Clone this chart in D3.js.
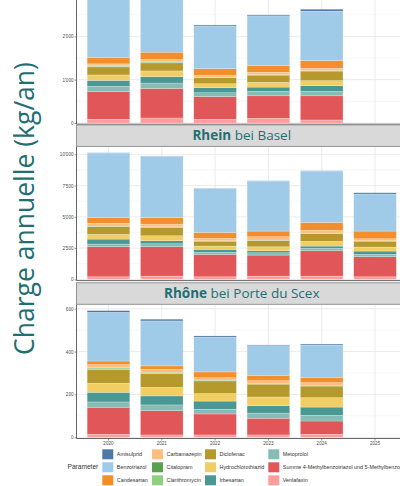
<!DOCTYPE html>
<html>
<head>
<meta charset="utf-8">
<script src="https://cdn.jsdelivr.net/npm/d3@7"></script>
<style>
  html, body { margin: 0; padding: 0; background: #fff; }
  svg { display: block; }
</style>
</head>
<body>
<svg id="chart" width="400" height="486"></svg>
<script>
// ---- data ---------------------------------------------------------------
const years = ["2020", "2021", "2022", "2023", "2024", "2025"];

const parameters = [
  "Amisulprid", "Benzotriazol", "Candesartan", "Carbamazepin",
  "Citalopram", "Clarithromycin", "Diclofenac", "Hydrochlorothiazid",
  "Irbesartan", "Metoprolol",
  "Summe 4-Methylbenzotriazol und 5-Methylbenzotriazol", "Venlafaxin"
];

const parameterColors = [
  "#4e79a7", "#a0cbe8", "#f28e2b", "#ffbe7d",
  "#59a14f", "#8cd17d", "#b6992d", "#f1ce63",
  "#499894", "#86bcb6", "#e15759", "#ff9d9a"
];

// Annual loads in kg/a: one row per parameter (order of `parameters`),
// one column per year (order of `years`); null = no value for that year.
const upperLoads = [
  [20, 20, 23, 23, 46, null],
  [1355, 1269, 984, 1147, 1139, null],
  [140, 170, 156, 156, 179, null],
  [39, 54, 46, 54, 54, null],
  [16, 13, 5, 5, 5, null],
  [15, 10, 5, 5, 5, null],
  [186, 186, 137, 168, 222, null],
  [125, 132, 93, 109, 117, null],
  [139, 148, 116, 100, 132, null],
  [117, 124, 86, 101, 100, null],
  [642, 682, 526, 519, 558, null],
  [86, 116, 86, 109, 70, null]
];

const rheinLoads = [
  [20, 20, 20, 20, 20, 100],
  [5180, 4916, 3500, 4004, 4108, 2964],
  [448, 504, 480, 456, 640, 616],
  [216, 216, 192, 264, 216, 160],
  [20, 20, 15, 15, 15, 15],
  [20, 20, 15, 15, 15, 15],
  [624, 680, 394, 506, 634, 474],
  [376, 400, 264, 320, 376, 320],
  [400, 240, 240, 160, 184, 264],
  [216, 240, 160, 184, 192, 192],
  [2400, 2344, 1792, 1680, 2024, 1600],
  [208, 264, 208, 264, 264, 208]
];

const rhoneLoads = [
  [8, 8, 6, 3, 5, null],
  [227, 210, 162, 139, 150, null],
  [17, 16, 27, 25, 25, null],
  [14, 14, 11, 12, 12, null],
  [4, 3, 2, 2, 2, null],
  [4, 2, 2, 2, 2, null],
  [65, 65, 59, 60, 54, null],
  [42, 40, 35, 41, 44, null],
  [45, 42, 38, 34, 38, null],
  [25, 27, 22, 24, 27, null],
  [126, 113, 98, 78, 62, null],
  [14, 11, 11, 11, 14, null]
];

const upperTicks = [0, 1000, 2000];
const rheinTicks = [0, 2500, 5000, 7500, 10000];
const rhoneTicks = [0, 200, 400, 600];

const yTitle = "Charge annuelle (kg/an)";
const legendTitle = "Parameter";

// ---- layout -------------------------------------------------------------
const svg = d3.select("#chart");
const plotLeft = 76.5, plotRight = 407;
const plotH = 133;
const stripH = 21.5;
const teal = "#1f6f73";

const fmt = d3.formatLocale({
  decimal: ".", thousands: "'", grouping: [3], currency: ["", ""]
}).format(",");

const x = d3.scaleBand()
  .domain(years)
  .range([plotLeft, plotRight])
  .paddingInner(0.2)
  .paddingOuter(0.2);

const color = d3.scaleOrdinal().domain(parameters).range(parameterColors);

const panels = [
  { id: "upper", loads: upperLoads, ticks: upperTicks, strip: null, y0: 123 },
  { id: "rhein", loads: rheinLoads, ticks: rheinTicks, strip: ["Rhein", " bei Basel"], y0: 279.4 },
  { id: "rhone", loads: rhoneLoads, ticks: rhoneTicks, strip: ["Rhône", " bei Porte du Scex"], y0: 437.3, xAxis: true }
];

// stack order: first parameter ends up on top, last at the bottom
const stackKeys = parameters.slice().reverse();

panels.forEach(p => {
  const rows = years.map((yr, j) => {
    const row = { year: yr };
    parameters.forEach((name, i) => { row[name] = p.loads[i][j] ?? 0; });
    row._has = parameters.some((name, i) => p.loads[i][j] != null);
    return row;
  }).filter(r => r._has);

  const totals = rows.map(r => d3.sum(parameters, k => r[k]));
  const yMax = d3.max(totals) * 1.05;
  const top = p.y0 - plotH;

  const y = d3.scaleLinear().domain([0, yMax]).range([p.y0, top]);

  const g = svg.append("g").attr("class", "panel-" + p.id);

  const clipId = "clip-" + p.id;
  svg.append("clipPath").attr("id", clipId)
    .append("rect")
    .attr("x", plotLeft).attr("y", top)
    .attr("width", plotRight - plotLeft).attr("height", p.y0 + 1.2 - top);

  const plot = g.append("g").attr("clip-path", `url(#${clipId})`);

  plot.append("rect")
    .attr("x", plotLeft).attr("y", top)
    .attr("width", plotRight - plotLeft).attr("height", p.y0 + 1.2 - top)
    .attr("fill", "#fff");

  // minor horizontal grid
  const step = p.ticks[1] - p.ticks[0];
  const minor = d3.range(step / 2, yMax, step);
  plot.selectAll("line.minor").data(minor).join("line")
    .attr("x1", plotLeft).attr("x2", plotRight)
    .attr("y1", d => y(d)).attr("y2", d => y(d))
    .attr("stroke", "#f2f2f2").attr("stroke-width", 0.6);

  // major horizontal grid
  plot.selectAll("line.major").data(p.ticks).join("line")
    .attr("x1", plotLeft).attr("x2", plotRight)
    .attr("y1", d => y(d)).attr("y2", d => y(d))
    .attr("stroke", "#e6e6e6").attr("stroke-width", 0.8);

  // vertical grid at category centres
  plot.selectAll("line.vgrid").data(years).join("line")
    .attr("x1", d => x(d) + x.bandwidth() / 2).attr("x2", d => x(d) + x.bandwidth() / 2)
    .attr("y1", top).attr("y2", p.y0)
    .attr("stroke", "#e6e6e6").attr("stroke-width", 0.8);

  // stacked bars
  const series = d3.stack().keys(stackKeys)(rows);
  plot.selectAll("g.layer").data(series).join("g")
    .attr("fill", d => color(d.key))
    .selectAll("rect").data(d => d).join("rect")
    .attr("x", d => x(d.data.year))
    .attr("width", x.bandwidth())
    .attr("y", d => y(d[1]))
    .attr("height", d => Math.max(0, y(d[0]) - y(d[1])))
    .attr("stroke", "rgba(255,255,255,0.45)")
    .attr("stroke-width", 0.5);

  // y axis
  const yAxis = g.append("g")
    .attr("transform", `translate(${plotLeft},0)`)
    .call(d3.axisLeft(y).tickValues(p.ticks).tickFormat(fmt).tickSize(2).tickSizeOuter(0).tickPadding(1));
  yAxis.select(".domain").attr("d", `M0,${Math.max(top, 0)}V${p.y0 + 1.2}`)
    .attr("stroke", "#555").attr("stroke-width", 0.9);
  yAxis.selectAll(".tick line").attr("stroke", "#555").attr("stroke-width", 0.6);
  yAxis.selectAll(".tick text")
    .attr("fill", "#4d4d4d")
    .style("font", "4.6px 'Liberation Sans', Arial, sans-serif");

  // bottom axis line
  g.append("line")
    .attr("x1", plotLeft).attr("x2", plotRight)
    .attr("y1", p.y0 + 1.2).attr("y2", p.y0 + 1.2)
    .attr("stroke", "#555").attr("stroke-width", 0.9);

  if (p.xAxis) {
    const xAxis = g.append("g")
      .attr("transform", `translate(0,${p.y0 + 1.2})`)
      .call(d3.axisBottom(x).tickSize(2).tickSizeOuter(0).tickPadding(1));
    xAxis.select(".domain").remove();
    xAxis.selectAll(".tick line").attr("stroke", "#555").attr("stroke-width", 0.6);
    xAxis.selectAll(".tick text")
      .attr("fill", "#4d4d4d")
      .style("font", "4.6px 'Liberation Sans', Arial, sans-serif");
  }

  // facet strip
  if (p.strip) {
    const sTop = top - stripH;
    g.append("rect")
      .attr("x", plotLeft).attr("y", sTop)
      .attr("width", plotRight - plotLeft).attr("height", stripH)
      .attr("fill", "#d9d9d9").attr("stroke", "#8a8a8a").attr("stroke-width", 0.9);
    const t = g.append("text")
      .attr("x", (plotLeft + plotRight) / 2)
      .attr("y", sTop + stripH / 2 + 4.8)
      .attr("text-anchor", "middle")
      .attr("fill", teal)
      .style("font-family", "'Open Sans', 'Noto Sans', sans-serif")
      .style("font-size", "13.5px");
    t.append("tspan").attr("font-weight", "bold").text(p.strip[0]);
    t.append("tspan").text(p.strip[1]);
  }
});

// ---- y title ------------------------------------------------------------
svg.append("text")
  .attr("transform", "translate(33.5,208.5) rotate(-90)")
  .attr("text-anchor", "middle")
  .attr("fill", teal)
  .style("font-family", "'Open Sans', 'Noto Sans', sans-serif")
  .style("font-size", "26.5px")
  .text(yTitle);

// ---- legend -------------------------------------------------------------
const legend = svg.append("g").attr("class", "legend");
legend.append("text")
  .attr("x", 67.5).attr("y", 469.3)
  .attr("fill", "#333")
  .style("font", "6.6px 'Liberation Sans', Arial, sans-serif")
  .text(legendTitle);

const colX = [102.3, 152, 205, 268.3];
const rowY = [454.3, 467.3, 480.3];
parameters.forEach((name, i) => {
  const c = Math.floor(i / 3), r = i % 3;
  const item = legend.append("g").attr("transform", `translate(${colX[c]},${rowY[r]})`);
  item.append("rect")
    .attr("x", 0).attr("y", -5)
    .attr("width", 11).attr("height", 10)
    .attr("fill", color(name));
  item.append("text")
    .attr("x", 14.5).attr("y", 1.9)
    .attr("fill", "#333")
    .style("font", "5.4px 'Liberation Sans', Arial, sans-serif")
    .text(name);
});
</script>
</body>
</html>
